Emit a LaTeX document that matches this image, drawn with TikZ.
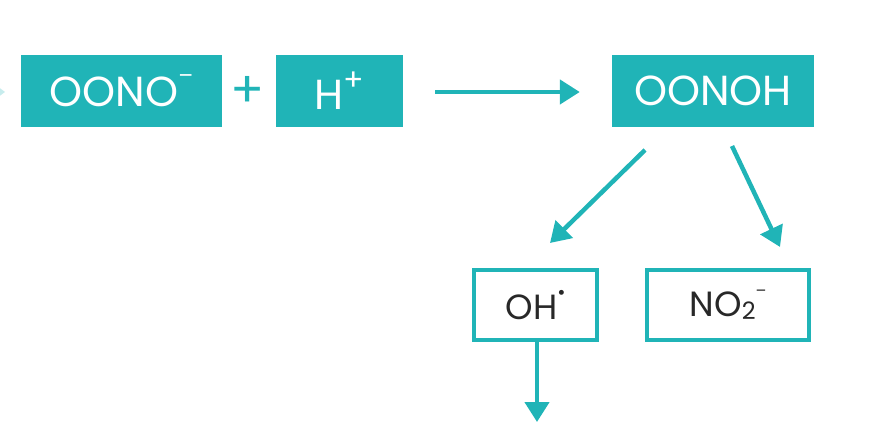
\documentclass[tikz,border=0pt]{standalone}
\usepackage{fontspec}
\setmainfont{Poppins}
\usetikzlibrary{arrows.meta,calc}
\definecolor{teal1}{RGB}{32,180,183}
\definecolor{ink}{RGB}{40,40,40}
\begin{document}
\begin{tikzpicture}[x=1pt,y=-1pt,
  filledbox/.style={fill=teal1,draw=none,text=white,minimum height=72pt,inner sep=0pt,
    font=\fontsize{42}{46}\selectfont},
  openbox/.style={draw=teal1,line width=3.5pt,fill=white,text=ink,minimum height=70pt,inner sep=0pt,
    font=\fontsize{35}{40}\selectfont},
  conn/.style={draw=teal1,line width=4.5pt,-{Triangle[length=20pt,width=24pt]}}]
\useasboundingbox (0,0) rectangle (872,430);
\node[filledbox,minimum width=201pt] (oono) at (121.5,91) {OONO\raisebox{0.55em}{\fontsize{22}{22}\selectfont –}};
\node[text=teal1,font=\fontsize{50}{50}\selectfont,inner sep=0pt] (plus) at (248,92) {+};
\node[filledbox,minimum width=127pt] (hplus) at (339.5,91) {H\raisebox{0.45em}{\fontsize{30}{30}\selectfont +}};
\node[filledbox,minimum width=202pt] (oonoh) at (713,91) {OONOH};
\node[openbox,minimum width=123pt] (oh) at (535.5,305) {OH\raisebox{0.55em}{\fontsize{20}{20}\selectfont •}};
\node[openbox,minimum width=162pt] (no2) at (728,305) {NO\raisebox{-0.1em}{\fontsize{24}{24}\selectfont 2}\raisebox{0.55em}{\fontsize{16}{16}\selectfont –}};
\coordinate (d1s) at (645,150);
\coordinate (d1e) at (550,243);
\coordinate (d2s) at (732,146);
\coordinate (d2e) at (780,247);
\coordinate (down) at (537,422);
\coordinate (lefttip) at (5,92);
\draw[conn] ($(hplus.east)+(32,1)$) -- ($(oonoh.west)+(-32,1)$);
\draw[conn] (d1s) -- (d1e);
\draw[conn] (d2s) -- (d2e);
\draw[conn] (oh.south -| down) -- (down);
\fill[teal1!25] (lefttip) -- ++(-8,-6) -- ++(0,12) -- cycle;
\end{tikzpicture}
\end{document}
